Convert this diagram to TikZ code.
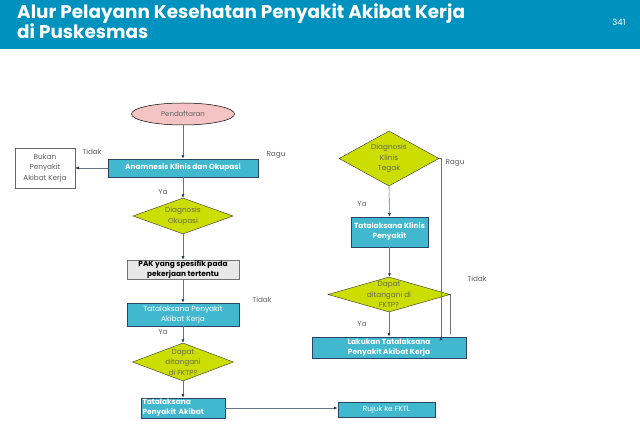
\documentclass[tikz,border=0pt]{standalone}
\usepackage{fontspec}
\setmainfont{Poppins}
\usetikzlibrary{shapes.geometric,arrows.meta}
\definecolor{hdr}{RGB}{0,146,190}
\definecolor{cyanbox}{RGB}{66,184,206}
\definecolor{cyanedge}{RGB}{40,70,100}
\definecolor{yel}{RGB}{204,221,0}
\definecolor{pink}{RGB}{244,196,196}
\definecolor{lbl}{RGB}{95,95,95}
\definecolor{dtxt}{RGB}{105,105,85}
\definecolor{conn}{RGB}{105,115,135}
\definecolor{tipc}{RGB}{35,55,95}
\definecolor{pakfill}{RGB}{232,232,232}
\tikzset{
  cbox/.style={draw=cyanedge, line width=0.8pt, fill=cyanbox, text=white, font=\fontsize{7.4}{10}\selectfont\bfseries, align=center, inner sep=0pt},
  cboxn/.style={cbox, font=\fontsize{7.4}{10}\selectfont},
  dia/.style={diamond, draw=black!80, line width=0.4pt, fill=yel, inner sep=0pt},
  dtext/.style={text=dtxt, font=\fontsize{7.3}{10.5}\selectfont, align=center},
  lab/.style={text=lbl, font=\fontsize{7.3}{9}\selectfont},
  arr/.style={draw=conn, line width=0.6pt, -{Latex[length=3.5pt,width=3pt,color=tipc]}},
  ln/.style={draw=conn, line width=0.6pt},
}
\begin{document}
\begin{tikzpicture}[x=1pt,y=-1pt]
\useasboundingbox (0,0) rectangle (640,443);
\fill[white] (0,0) rectangle (640,443);
\fill[hdr] (0,0) rectangle (640,49);
\node[anchor=north west, text=white, font=\fontsize{18.4}{20}\selectfont\bfseries, align=left, inner sep=0pt] (title) at (17,3.5) {Alur Pelayann Kesehatan Penyakit Akibat Kerja\\di Puskesmas};
\node[text=white, font=\fontsize{8.5}{10}\selectfont] (pg) at (619,22) {341};

% left column
\node[ellipse, draw=black, line width=0.5pt, fill=pink, minimum width=103pt, minimum height=22pt, inner sep=0pt, text=lbl, font=\fontsize{7}{8}\selectfont] (pend) at (183,114) {Pendaftaran};
\node[cbox, minimum width=150pt, minimum height=18pt] (anam) at (183,168) {Anamnesis Klinis dan Okupasi};
\node[draw=black!60, line width=0.5pt, fill=white, minimum width=60pt, minimum height=40pt, inner sep=0pt, align=center, text=lbl, font=\fontsize{7.3}{10.5}\selectfont] (bukan) at (45,168) {Bukan\\Penyakit\\Akibat Kerja};
\node[dia, minimum width=100pt, minimum height=36pt, label={[dtext]center:Diagnosis\\Okupasi}] (dok) at (183,216) {};
\node[draw=black!55, line width=0.6pt, fill=pakfill, minimum width=112pt, minimum height=19pt, inner sep=0pt, align=center, font=\fontsize{7.4}{9.5}\selectfont\bfseries] (pak) at (183,269.5) {PAK yang spesifik pada\\pekerjaan tertentu};
\node[cboxn, minimum width=112pt, minimum height=23pt] (tpak) at (183,314.5) {Tatalaksana Penyakit\\Akibat Kerja};
\node[dia, minimum width=101pt, minimum height=38pt, label={[dtext]center:Dapat\\ditangani\\di FKTP?}] (dfk1) at (183,362) {};
\node[cbox, minimum width=84pt, minimum height=20pt, align=left, text width=81pt] (tpa) at (183,408) {Tatalaksana\\Penyakit Akibat};
\node[cboxn, minimum width=97pt, minimum height=15pt] (rujuk) at (386.5,409.5) {Rujuk ke FKTL};

% right column
\node[dia, minimum width=100pt, minimum height=55pt, label={[dtext]center:Diagnosis\\Klinis\\Tegak}] (dkt) at (389,158.5) {};
\node[cbox, minimum width=77pt, minimum height=30pt] (tkp) at (389.5,232) {Tatalaksana Klinis\\Penyakit};
\node[dia, minimum width=122pt, minimum height=35pt, label={[dtext]center:Dapat\\ditangani di\\FKTP?}] (dfk2) at (389,294.5) {};
\node[cbox, minimum width=154pt, minimum height=21pt] (lak) at (389,347.5) {Lakukan Tatalaksana\\Penyakit Akibat Kerja};

% connectors
\draw[arr] (pend.south) -- (anam.north);
\draw[arr] (anam.west) -- (bukan.east);
\draw[arr] (anam.south) -- (dok.north);
\draw[arr] (dok.south) -- (pak.north);
\draw[arr] (pak.south) -- (tpak.north);
\draw[arr] (tpak.south) -- (dfk1.north);
\draw[arr] (dfk1.south) -- (tpa.north);
\draw[arr] (tpa.east) -- (tpa.east -| rujuk.west);
\draw[arr] (dkt.south) -- (tkp.north);
\draw[arr] (tkp.south) -- (tkp.south |- dfk2.north);
\draw[arr] (dfk2.south) -- (lak.north);
\draw[arr] (dkt.east) -- ++(2,0) |- ([xshift=52pt]lak.north) -- ([xshift=52pt]lak.north);
\coordinate (tend) at ([xshift=62pt,yshift=3pt]lak.north);
\draw[ln] (dfk2.east) -- (dfk2.east |- tend);

% labels
\node[lab] (l1) at (92,152) {Tidak};
\node[lab] (l2) at (276,155) {Ragu};
\node[lab] (l3) at (163,192) {Ya};
\node[lab] (l4) at (262,300) {Tidak};
\node[lab] (l5) at (163,332) {Ya};
\node[lab] (l6) at (455,163) {Ragu};
\node[lab] (l7) at (362,204) {Ya};
\node[lab] (l8) at (362,324) {Ya};
\node[lab] (l9) at (477,279) {Tidak};
\end{tikzpicture}
\end{document}
